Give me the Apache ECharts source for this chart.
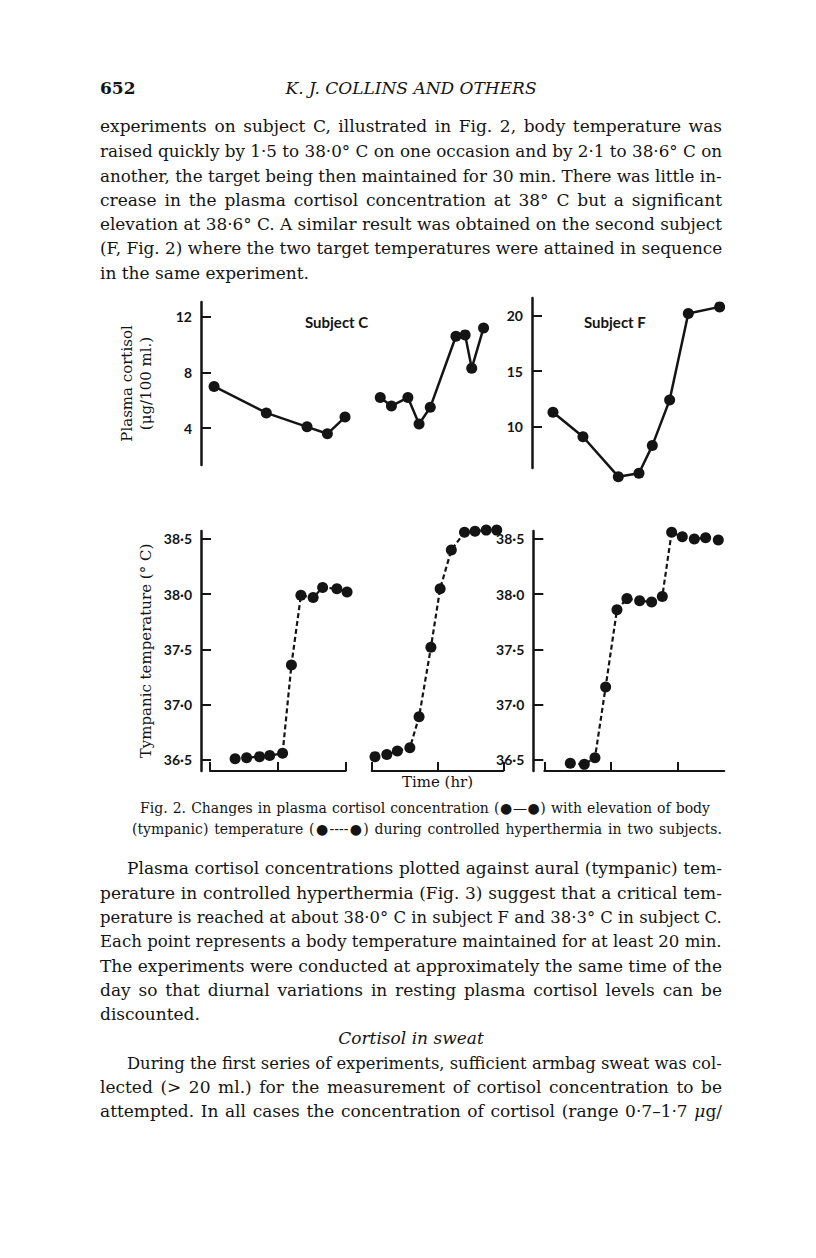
<!DOCTYPE html>
<html>
<head>
<meta charset="utf-8">
<script src="https://cdn.jsdelivr.net/npm/echarts@6.0.0/dist/echarts.min.js"></script>
<style>
	body {
		margin: 0;
		background: #fff;
	}
	#page {
		position: relative;
		width: 816px;
		height: 1258px;
		overflow: hidden;
		background: #fff;
	}
	#fig_chart {
		position: absolute;
		left: 0;
		top: 0;
		width: 816px;
		height: 1258px;
	}
	.txt {
		position: absolute;
		height: 24px;
		line-height: 24px;
		white-space: nowrap;
		font-family: 'DejaVu Serif', serif;
		font-size: 17px;
		color: #141414;
		transform-origin: left center;
	}
	.just {
		text-align: justify;
		text-align-last: justify;
	}
	.cap {
		font-size: 14px;
	}
</style>
</head>
<body>
<div id="page">
	<div id="fig_chart"></div>
</div>
<script>
// Subject C, first experiment (top: cortisol, bottom: tympanic temp), time in hr
const cTimeCortA = [0.06, 0.83, 1.43, 1.73, 1.99]
const cCortA = [7.0, 5.1, 4.1, 3.6, 4.8]
const cTimeTempA = [0.37, 0.54, 0.73, 0.88, 1.07, 1.2, 1.34, 1.52, 1.66, 1.87, 2.02]
const cTempA = [36.51, 36.52, 36.53, 36.54, 36.56, 37.36, 37.99, 37.97, 38.06, 38.05, 38.02]

// Subject C, second experiment
const cTimeCortB = [0.13, 0.3, 0.55, 0.72, 0.89, 1.28, 1.42, 1.52, 1.7]
const cCortB = [6.2, 5.6, 6.2, 4.3, 5.5, 10.6, 10.7, 8.3, 11.2]
const cTimeTempB = [0.05, 0.23, 0.39, 0.58, 0.72, 0.9, 1.04, 1.21, 1.41, 1.57, 1.74, 1.9]
const cTempB = [36.53, 36.55, 36.58, 36.61, 36.89, 37.52, 38.05, 38.4, 38.56, 38.57, 38.58, 38.58]

// Subject F
const fTimeCort = [0.13, 0.58, 1.11, 1.42, 1.62, 1.88, 2.16, 2.63]
const fCort = [11.3, 9.1, 5.5, 5.8, 8.3, 12.4, 20.2, 20.8]
const fTimeTemp = [0.39, 0.6, 0.76, 0.92, 1.09, 1.24, 1.43, 1.61, 1.77, 1.91, 2.07, 2.25, 2.42, 2.61]
const fTemp = [36.47, 36.46, 36.52, 37.16, 37.86, 37.96, 37.94, 37.93, 37.98, 38.56, 38.52, 38.5, 38.51, 38.49]

// tick labels
const cCortTicks = [4, 8, 12]
const fCortTicks = [10, 15, 20]
const tempTicks = [36.5, 37.0, 37.5, 38.0, 38.5]
const timeTicks = [0, 1, 2]

// page text
const headLines = [
	'experiments on subject C, illustrated in Fig. 2, body temperature was',
	'raised quickly by 1·5 to 38·0° C on one occasion and by 2·1 to 38·6° C on',
	'another, the target being then maintained for 30 min. There was little in-',
	'crease in the plasma cortisol concentration at 38° C but a significant',
	'elevation at 38·6° C. A similar result was obtained on the second subject',
	'(F, Fig. 2) where the two target temperatures were attained in sequence',
	'in the same experiment.',
]
const capLines = [
	'Fig. 2. Changes in plasma cortisol concentration (●—●) with elevation of body',
	'(tympanic) temperature (●----●) during controlled hyperthermia in two subjects.',
]
const tailLines = [
	'Plasma cortisol concentrations plotted against aural (tympanic) tem-',
	'perature in controlled hyperthermia (Fig. 3) suggest that a critical tem-',
	'perature is reached at about 38·0° C in subject F and 38·3° C in subject C.',
	'Each point represents a body temperature maintained for at least 20 min.',
	'The experiments were conducted at approximately the same time of the',
	'day so that diurnal variations in resting plasma cortisol levels can be',
	'discounted.',
]
const sweatLines = [
	'During the first series of experiments, sufficient armbag sweat was col-',
	'lected (> 20 ml.) for the measurement of cortisol concentration to be',
	'attempted. In all cases the concentration of cortisol (range 0·7–1·7 <i>μ</i>g/',
]

const INK = '#141414'
const SANS = 'Lato, "Open Sans", sans-serif'
const SERIF = '"DejaVu Serif", serif'

const page = document.getElementById('page')

/** one printed line; justified lines are stretched to the column */
function addLine(html, yMid, left, width, cls) {
	const el = document.createElement('div')
	el.className = 'txt ' + (cls || '')
	el.innerHTML = html
	el.style.left = left + 'px'
	el.style.top = yMid - 12 + 'px'
	if (width) el.style.width = width + 'px'
	page.appendChild(el)
	if (width && el.scrollWidth > width + 1) {
		el.style.transform = 'scaleX(' + width / el.scrollWidth + ')'
		el.style.textAlignLast = 'left'
	}
	return el
}

const COL_L = 100
const COL_W = 622

addLine('<b>652</b>', 88, COL_L, 0, '')
addLine('<i>K. J. COLLINS AND OTHERS</i>', 88, COL_L, COL_W, '').style.textAlign = 'center'

const headY = [126, 151, 176, 200, 224, 248, 273]
headLines.forEach((t, i) => {
	const last = i === headLines.length - 1
	addLine(t, headY[i], COL_L, last ? 0 : COL_W, last ? '' : 'just')
})

addLine(capLines[0], 808, 140, 570, 'just cap')
addLine(capLines[1], 829, 132, 590, 'just cap')

const tailY = [868, 893, 917, 941, 966, 990, 1014]
tailLines.forEach((t, i) => {
	const indent = i === 0 ? 27 : 0
	const last = i === tailLines.length - 1
	addLine(t, tailY[i], COL_L + indent, last ? 0 : COL_W - indent, last ? '' : 'just')
})
addLine('<i>Cortisol in sweat</i>', 1038, COL_L, COL_W, '').style.textAlign = 'center'
const sweatY = [1063, 1087, 1111]
sweatLines.forEach((t, i) => {
	const indent = i === 0 ? 27 : 0
	addLine(t, sweatY[i], COL_L + indent, COL_W - indent, 'just')
})

// ---- figure ----
const pairs = (xs, ys) => xs.map((x, i) => [x, ys[i]])
const dotFmt = (v) => v.toFixed(1).replace('.', '·')

// panel boxes: data grids, then the y-axis grids that sit a little left of them
const CORT_C = { min: 1.36, max: 13.06, top: 302, height: 163 }
const CORT_F = { min: 6.28, max: 21.6, top: 298, height: 170 }
const TEMP = { min: 36.4, max: 38.572, top: 531, height: 240 }
const COLS = [
	{ left: 210, width: 135.7, tmax: 2 },
	{ left: 371.7, width: 131.6, tmax: 2 },
	{ left: 544.3, width: 180, tmax: 2.7 },
]

const tickLabel = {
	fontFamily: SANS,
	fontSize: 14,
	fontWeight: 'bold',
	color: INK,
}

function hiddenY(gridIndex, box) {
	return { gridIndex, type: 'value', min: box.min, max: box.max, show: false }
}

function shownY(gridIndex, box, ticks, fmt, name) {
	return {
		gridIndex,
		type: 'value',
		min: box.min,
		max: box.max,
		name,
		nameLocation: 'middle',
		nameRotate: 90,
		nameGap: 46,
		nameTextStyle: {
			fontFamily: SERIF,
			fontSize: 15,
			lineHeight: 19,
			color: INK,
		},
		axisLine: { show: true, lineStyle: { color: INK, width: 2.5 } },
		axisTick: {
			show: true,
			inside: true,
			length: 10,
			customValues: ticks,
			lineStyle: { color: INK, width: 2 },
		},
		axisLabel: {
			customValues: ticks,
			margin: 9,
			formatter: fmt,
			...tickLabel,
		},
		splitLine: { show: false },
	}
}

function hiddenX(gridIndex, max) {
	return { gridIndex, type: 'value', min: 0, max, show: false }
}

function timeX(gridIndex, max, name) {
	return {
		gridIndex,
		type: 'value',
		min: 0,
		max,
		name,
		nameLocation: 'middle',
		nameGap: 3,
		nameTextStyle: { fontFamily: SERIF, fontSize: 15, color: INK, verticalAlign: 'top' },
		axisLine: { show: true, lineStyle: { color: INK, width: 2 } },
		axisTick: {
			show: true,
			inside: true,
			length: 9,
			customValues: timeTicks,
			lineStyle: { color: INK, width: 2 },
		},
		axisLabel: { show: false },
		splitLine: { show: false },
	}
}

function seriesOf(idx, data, dashed) {
	return {
		type: 'line',
		xAxisIndex: idx,
		yAxisIndex: idx,
		data,
		clip: false,
		symbol: 'circle',
		symbolSize: 11,
		itemStyle: { color: INK },
		lineStyle: dashed ? { color: INK, width: 2.2, type: [5, 3] } : { color: INK, width: 2.5 },
		emphasis: { disabled: true },
	}
}

const grids = [
	{ left: COLS[0].left, width: COLS[0].width, top: CORT_C.top, height: CORT_C.height },
	{ left: COLS[1].left, width: COLS[1].width, top: CORT_C.top, height: CORT_C.height },
	{ left: COLS[2].left, width: COLS[2].width, top: CORT_F.top, height: CORT_F.height },
	{ left: COLS[0].left, width: COLS[0].width, top: TEMP.top, height: TEMP.height },
	{ left: COLS[1].left, width: COLS[1].width, top: TEMP.top, height: TEMP.height },
	{ left: COLS[2].left, width: COLS[2].width, top: TEMP.top, height: TEMP.height },
	// axis-only grids
	{ left: 201, width: 5, top: CORT_C.top, height: CORT_C.height },
	{ left: 532, width: 5, top: CORT_F.top, height: CORT_F.height },
	{ left: 201, width: 5, top: TEMP.top, height: TEMP.height },
	{ left: 533.3, width: 5, top: TEMP.top, height: TEMP.height },
]

const titleStyle = { fontFamily: SANS, fontSize: 15, fontWeight: 'bold', color: INK }

const chart = echarts.init(document.getElementById('fig_chart'), null, { renderer: 'svg' })
chart.setOption({
	animation: false,
	backgroundColor: 'transparent',
	title: [
		{ text: 'Subject C', left: 305, top: 314, padding: 0, textStyle: titleStyle },
		{ text: 'Subject F', left: 584, top: 314, padding: 0, textStyle: titleStyle },
	],
	grid: grids,
	xAxis: [
		hiddenX(0, COLS[0].tmax),
		hiddenX(1, COLS[1].tmax),
		hiddenX(2, COLS[2].tmax),
		timeX(3, COLS[0].tmax),
		timeX(4, COLS[1].tmax, 'Time (hr)'),
		timeX(5, COLS[2].tmax),
		hiddenX(6, 1),
		hiddenX(7, 1),
		hiddenX(8, 1),
		hiddenX(9, 1),
	],
	yAxis: [
		hiddenY(0, CORT_C),
		hiddenY(1, CORT_C),
		hiddenY(2, CORT_F),
		hiddenY(3, TEMP),
		hiddenY(4, TEMP),
		hiddenY(5, TEMP),
		shownY(6, CORT_C, cCortTicks, (v) => String(v), 'Plasma cortisol\n(μg/100 ml.)'),
		shownY(7, CORT_F, fCortTicks, (v) => String(v)),
		shownY(8, TEMP, tempTicks, dotFmt, 'Tympanic temperature (° C)'),
		shownY(9, TEMP, tempTicks, dotFmt),
	],
	series: [
		seriesOf(0, pairs(cTimeCortA, cCortA), false),
		seriesOf(1, pairs(cTimeCortB, cCortB), false),
		seriesOf(2, pairs(fTimeCort, fCort), false),
		seriesOf(3, pairs(cTimeTempA, cTempA), true),
		seriesOf(4, pairs(cTimeTempB, cTempB), true),
		seriesOf(5, pairs(fTimeTemp, fTemp), true),
	],
})
</script>
</body>
</html>
